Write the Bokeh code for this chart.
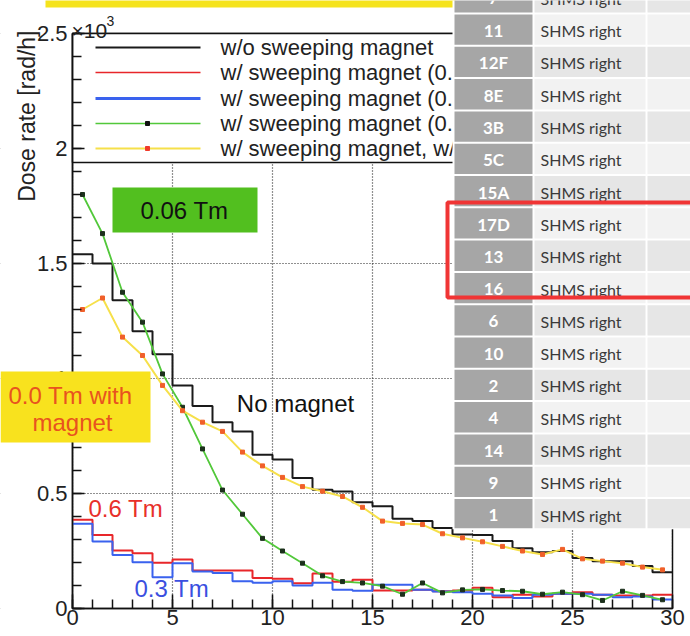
import numpy as np
from bokeh.plotting import figure
from bokeh.models import Range1d, SingleIntervalTicker, BoxAnnotation, Label
from bokeh.embed import file_html
from bokeh.resources import INLINE

# ---------------- data (dose rate in units of 10^3 rad/h) ----------------
bin_edges = list(range(0, 31))
no_magnet = [1.54, 1.50, 1.34, 1.205, 1.105, 0.97, 0.88, 0.81, 0.77, 0.668,
             0.648, 0.567, 0.516, 0.509, 0.462, 0.445, 0.39, 0.38, 0.35, 0.322,
             0.32, 0.293, 0.262, 0.245, 0.25, 0.22, 0.205, 0.205, 0.185, 0.158]
sweep_06 = [0.386, 0.32, 0.252, 0.24, 0.199, 0.213, 0.165, 0.165, 0.165, 0.133,
            0.129, 0.11, 0.152, 0.116, 0.125, 0.078, 0.078, 0.081, 0.075, 0.078,
            0.09, 0.049, 0.06, 0.052, 0.064, 0.071, 0.06, 0.057, 0.057, 0.06]
sweep_03 = [0.368, 0.291, 0.233, 0.201, 0.136, 0.197, 0.161, 0.154, 0.119, 0.112,
            0.119, 0.1, 0.112, 0.082, 0.077, 0.103, 0.103, 0.082, 0.074, 0.071,
            0.064, 0.057, 0.046, 0.06, 0.064, 0.064, 0.06, 0.049, 0.052, 0.039]
sweep_006 = [1.80, 1.63, 1.375, 1.245, 1.02, 0.875, 0.694, 0.515, 0.41, 0.305,
             0.25, 0.197, 0.142, 0.117, 0.111, 0.097, 0.062, 0.111, 0.068, 0.081,
             0.083, 0.078, 0.075, 0.062, 0.071, 0.06, 0.035, 0.075, 0.057, 0.038]
sweep_00 = [1.30, 1.35, 1.18, 1.10, 0.97, 0.86, 0.81, 0.77, 0.68, 0.62,
            0.57, 0.53, 0.51, 0.487, 0.44, 0.38, 0.37, 0.365, 0.325, 0.307,
            0.29, 0.27, 0.25, 0.235, 0.257, 0.216, 0.206, 0.197, 0.18, 0.168]

legend_labels = ["w/o sweeping magnet",
                 "w/ sweeping magnet (0.6 Tm)",
                 "w/ sweeping magnet (0.3 Tm)",
                 "w/ sweeping magnet (0.06 Tm)",
                 "w/ sweeping magnet, w/o field (0.0 Tm)"]
y_ticks = [0, 0.5, 1, 1.5, 2, 2.5]
y_tick_labels = ["0", "0.5", "1", "1.5", "2", "2.5"]
y_title = "Dose rate [rad/h]"

table_ids = ["7", "11", "12F", "8E", "3B", "5C", "15A", "17D", "13", "16",
             "6", "10", "2", "4", "14", "9", "1"]
table_location = ["SHMS right"] * len(table_ids)

# ---------------- layout helpers (overlay placement only) ----------------
W, H = 690, 636
FL, FR, FT, FB = 72, 672, 33, 608
X0, X1, Y0, Y1 = 0, 30, 0, 2.5


def px_x(px):
    return X0 + (px - FL) / (FR - FL) * (X1 - X0)


def px_y(py):
    return Y1 - (py - FT) / (FB - FT) * (Y1 - Y0)


FONT = "Liberation Sans"
TFONT = "Lato"

# the plotting frame covers the whole canvas; the axes are pinned at x=0 / y=0
p = figure(width=W, height=H, title=None,
           x_range=Range1d(px_x(0), px_x(W)), y_range=Range1d(px_y(H), px_y(0)),
           output_backend="svg", toolbar_location=None, min_border=0)
p.outline_line_color = None
p.background_fill_color = "white"
p.border_fill_color = "white"

p.xaxis.ticker = SingleIntervalTicker(interval=5, num_minor_ticks=5)
p.yaxis.ticker = SingleIntervalTicker(interval=0.5, num_minor_ticks=5)
p.xaxis.fixed_location = Y0
p.yaxis.fixed_location = X0
p.xaxis.bounds = (X0, X1)
p.yaxis.bounds = (Y0, Y1)
p.yaxis.major_label_overrides = {float(t): s for t, s in zip(y_ticks, y_tick_labels)}
for ax in (p.xaxis, p.yaxis):
    ax.major_label_text_font = FONT
    ax.major_label_text_font_size = "22px"
    ax.major_label_text_color = "#222222"
    ax.axis_line_color = "#111111"
    ax.axis_line_width = 1.5
    ax.major_tick_line_color = "#111111"
    ax.minor_tick_line_color = "#111111"
    ax.major_tick_line_width = 1.5
    ax.minor_tick_line_width = 1.5
    ax.major_tick_out = 0
    ax.minor_tick_out = 0
p.xaxis.major_tick_in = 14
p.xaxis.minor_tick_in = 9
p.yaxis.major_tick_in = 12
p.yaxis.minor_tick_in = 9
p.xaxis.major_label_standoff = 1
p.yaxis.major_label_standoff = 5

p.grid.grid_line_color = "#222222"
p.grid.grid_line_dash = "1 2"
p.grid.grid_line_width = 1.2


def ubox(l, r, t, b, fill=None, line=None, lw=0):
    p.add_layout(BoxAnnotation(left=px_x(l), right=px_x(r), top=px_y(t), bottom=px_y(b),
                               fill_color=fill if fill else "white",
                               fill_alpha=1.0 if fill else 0.0,
                               line_color=line if line else "white",
                               line_alpha=1.0 if line else 0.0, line_width=lw,
                               level="underlay"))


# white margins around the plot area (hide grid outside), frame and legend box
ubox(-5, W + 5, -5, FT, "white")
ubox(-5, W + 5, FB, H + 5, "white")
ubox(-5, FL, -5, H + 5, "white")
ubox(FR, W + 5, -5, H + 5, "white")
ubox(FL, FR, FT, FB, None, line="#111111", lw=1.5)
ubox(FL, 720, FT, 162, "white", line="#111111", lw=1.5)

# ---------------- data ----------------
centers = [e + 0.5 for e in bin_edges[:-1]]


def ext(v):
    return list(v) + [v[-1]]


c_black, c_red, c_blue, c_green, c_yellow = "#1a1a1a", "#e8262a", "#3a62ee", "#52c83a", "#f6e04a"
p.step(bin_edges, ext(no_magnet), mode="after", line_color=c_black, line_width=2)
p.step(bin_edges, ext(sweep_06), mode="after", line_color=c_red, line_width=2)
p.step(bin_edges, ext(sweep_03), mode="after", line_color=c_blue, line_width=2)
p.line(centers, sweep_006, line_color=c_green, line_width=1.8)
p.scatter(centers, sweep_006, marker="square", size=4, color="#1c301c")
p.line(centers, sweep_00, line_color=c_yellow, line_width=2)
p.scatter(centers, sweep_00, marker="square", size=4, color="#f0602a")

# legend samples
leg_rows = [47, 72, 98, 123, 148]
leg_colors = [c_black, c_red, c_blue, c_green, c_yellow]
leg_widths = [2, 1.5, 3, 1.5, 2]
p.segment(x0=[px_x(95)] * 5, x1=[px_x(200)] * 5,
          y0=[px_y(r) for r in leg_rows], y1=[px_y(r) for r in leg_rows],
          line_color=leg_colors, line_width=leg_widths)
p.scatter([px_x(147)], [px_y(leg_rows[3])], marker="square", size=4, color="#111111")
p.scatter([px_x(147)], [px_y(leg_rows[4])], marker="square", size=4, color="#f03a2a")


# ---------------- annotations ----------------
def label(x, y, text, size="22px", color="#222222", align="left", baseline="middle",
          font=FONT, style="normal", angle=0.0):
    p.add_layout(Label(x=px_x(x), y=px_y(y), text=text, text_font=font,
                       text_font_size=size, text_color=color, text_align=align,
                       text_baseline=baseline, text_font_style=style, angle=angle))


def box(l, r, t, b, fill, line=None, lw=0):
    p.add_layout(BoxAnnotation(left=px_x(l), right=px_x(r), top=px_y(t), bottom=px_y(b),
                               fill_color=fill if fill else "white",
                               fill_alpha=1.0 if fill else 0.0,
                               line_color=line if line else "white",
                               line_alpha=1.0 if line else 0.0, line_width=lw))


for r, t in zip(leg_rows, legend_labels):
    label(220, r, t, size="22px", color="#222222")

# top yellow strip
box(45, 455, -6, 7, "#f5e31c")
# x10^3
label(71, 30, "\u00d710", size="21px", baseline="alphabetic")
label(106, 20, "3", size="14px", baseline="alphabetic")
# y title
label(26, 30, y_title, size="23px", align="right", baseline="middle", angle=np.pi / 2)

label(295, 403, "No magnet", size="24px", color="#111111", align="center")
label(88, 508, "0.6 Tm", size="24px", color="#e8302a")
label(134, 588, "0.3 Tm", size="24px", color="#3b4fe0")

box(112, 257, 187, 232, "#52bf1f")
label(184, 210, "0.06 Tm", size="24px", color="#111111", align="center")

box(0, 150, 371, 442, "#f8e21e")
label(70, 395, "0.0 Tm with", size="24px", color="#e8531f", align="center")
label(72, 422, "magnet", size="24px", color="#e8531f", align="center")

# ---------------- table overlay ----------------
T_TOP, T_PITCH = 13 - 32.3, 32.3
T_BOTTOM = 13 + 16 * 32.3 - 2
box(452, 700, -30, T_BOTTOM + 1, "white")
for i, (tid, loc) in enumerate(zip(table_ids, table_location)):
    top = T_TOP + i * T_PITCH + 1
    bot = min(T_TOP + (i + 1) * T_PITCH - 1, T_BOTTOM)
    shade = "#f2f2f2" if i % 2 else "#e6e6e6"
    box(454, 532, top, bot, "#a6a6a6")
    box(534, 645, top, bot, shade)
    box(647, 700, top, bot, shade)
    cy = T_TOP + (i + 0.5) * T_PITCH + 1
    label(493, cy, tid, size="17px", color="white", align="center", font=TFONT, style="bold")
    label(540, cy, loc, size="16px", color="#3a3a3a", font=TFONT)

box(447, 705, 202, 297, None, line="#f03535", lw=4)

open("out.html", "w").write(file_html(p, INLINE))
